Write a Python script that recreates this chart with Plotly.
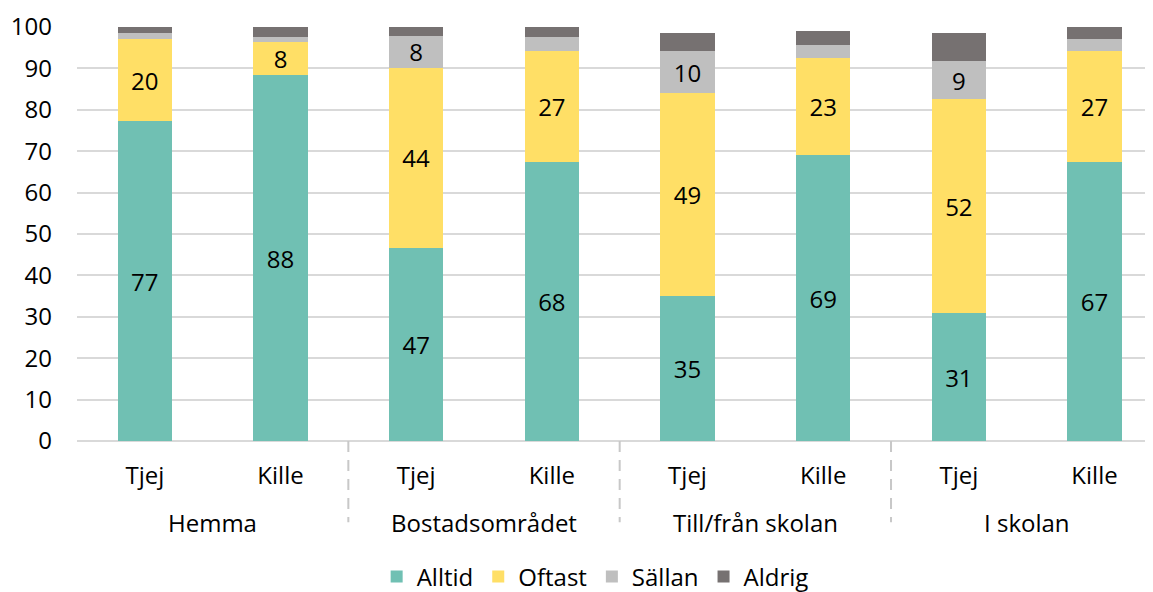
import plotly.graph_objects as go

groups = ["Hemma", "Bostadsområdet", "Till/från skolan", "I skolan"]
genders = ["Tjej", "Kille"]
bar_labels = ["Tjej", "Kille"] * 4

alltid = [77.2, 88.4, 46.6, 67.5, 35.1, 69.0, 30.8, 67.3]
oftast = [19.8, 7.9, 43.6, 26.8, 49.0, 23.6, 51.7, 27.0]
sallan = [1.5, 1.3, 7.7, 3.2, 10.0, 3.1, 9.2, 2.7]
aldrig = [1.5, 2.4, 2.1, 2.5, 4.5, 3.3, 6.8, 3.0]

alltid_txt = ["77", "88", "47", "68", "35", "69", "31", "67"]
oftast_txt = ["20", "8", "44", "27", "49", "23", "52", "27"]
sallan_txt = ["", "", "8", "", "10", "", "9", ""]
aldrig_txt = [""] * 8

series = [
    ("Alltid", alltid, alltid_txt, "#70C0B3"),
    ("Oftast", oftast, oftast_txt, "#FFDF66"),
    ("Sällan", sallan, sallan_txt, "#BFBFBF"),
    ("Aldrig", aldrig, aldrig_txt, "#767171"),
]

xpos = list(range(len(bar_labels)))
FONT = "Open Sans"
FS = 24

fig = go.Figure()
for name, vals, txt, col in series:
    fig.add_trace(go.Bar(
        x=xpos, y=vals, name=name, text=txt,
        marker=dict(color=col, line=dict(width=0)),
        textposition="inside", insidetextanchor="middle", textangle=0,
        textfont=dict(family=FONT, size=FS, color="#000000"),
        constraintext="none", hoverinfo="skip",
    ))

# group labels and dashed separators
for i, g in enumerate(groups):
    fig.add_annotation(x=2 * i + 0.5, xref="x", y=-0.197, yref="paper",
                       text=g, showarrow=False, yanchor="middle",
                       font=dict(family=FONT, size=FS, color="#000000"))
for i in range(1, len(groups)):
    fig.add_shape(type="line", xref="x", yref="paper",
                  x0=2 * i - 0.5, x1=2 * i - 0.5, y0=0, y1=-0.196,
                  line=dict(color="#C8C8C8", width=2, dash="11px,8px"))

fig.update_layout(
    barmode="stack", bargap=0.6,
    width=1153, height=592,
    margin=dict(l=69, r=0, t=18.5, b=154.7),
    paper_bgcolor="white", plot_bgcolor="white",
    font=dict(family=FONT, size=FS, color="#000000"),
    showlegend=True,
    legend=dict(orientation="h", x=0.478, xanchor="center", y=-0.328,
                yanchor="middle", font=dict(family=FONT, size=FS),
                traceorder="normal", itemwidth=30, tracegroupgap=0),
    xaxis=dict(range=[-0.5, 7.49], tickmode="array", tickvals=xpos,
               ticktext=bar_labels, showgrid=False, zeroline=False,
               showline=False, ticks="", ticklabelstandoff=18,
               automargin=False,
               tickfont=dict(family=FONT, size=FS)),
    yaxis=dict(range=[0, 100], tick0=0, dtick=10, showgrid=True,
               gridcolor="#D9D9D9", gridwidth=1.5, zeroline=True,
               zerolinecolor="#D9D9D9", zerolinewidth=1.5, showline=False,
               ticks="", ticklabelstandoff=24, automargin=False,
               tickfont=dict(family=FONT, size=FS)),
)

fig.write_html("out.html")
